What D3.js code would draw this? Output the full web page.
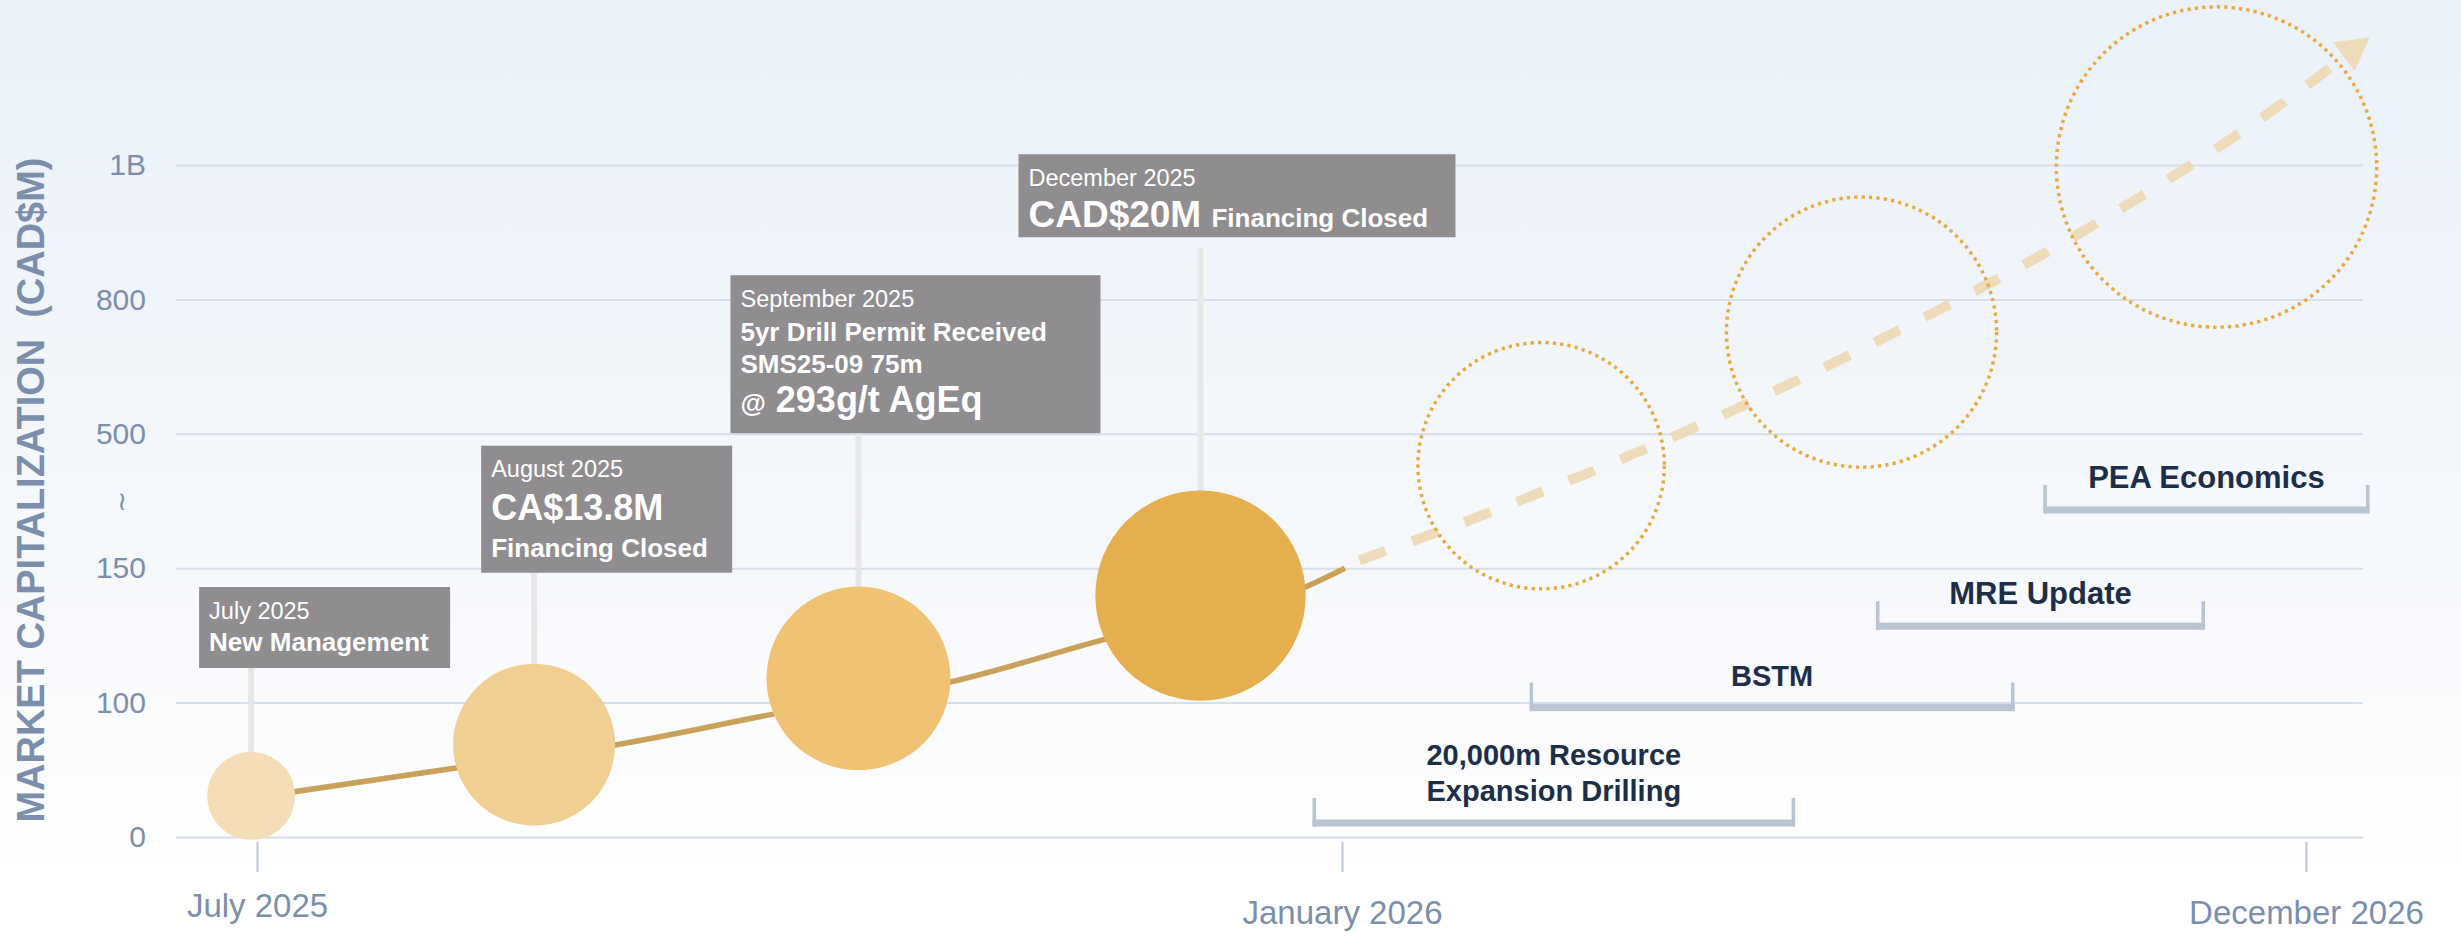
<!DOCTYPE html>
<html>
<head>
<meta charset="utf-8">
<script src="https://cdn.jsdelivr.net/npm/d3@7"></script>
<style>
  body { margin: 0; background: #fff; }
  svg { display: block; font-family: "Liberation Sans", Arial, sans-serif; }
</style>
</head>
<body>
<svg id="chart" width="2461" height="937"></svg>
<script>
// axis ticks (y axis is broken between 150 and 500, so ticks are evenly spaced)
const yTickValues = [0, 100, 150, 500, 800, 1000];
const yTickLabels = ["0", "100", "150", "500", "800", "1B"];
const yBreakValue = 325;
const xTickDates = ["2025-07-01", "2026-01-01", "2026-12-01"];
const xTickLabels = ["July 2025", "January 2026", "December 2026"];

// market cap so far, CAD$M
const capDates = ["2025-06-30", "2025-08-04", "2025-08-31", "2025-09-27", "2025-10-27", "2025-11-22", "2025-12-26", "2026-01-02"];
const capValues = [29, 51.5, 68.7, 91.8, 107.9, 123.7, 143.2, 150];

// milestones reached
const eventDates = ["2025-06-30", "2025-08-17", "2025-10-11", "2025-12-08"];
const eventValues = [30.6, 68.7, 109, 139.8];
const eventWeights = [1, 1.84, 2.09, 2.39];
const eventTitles = ["July 2025", "August 2025", "September 2025", "December 2025"];
const eventLines = [
  [["New Management"]],
  [["CA$13.8M"], ["Financing Closed"]],
  [["5yr Drill Permit Received"], ["SMS25-09 75m"], ["@", " 293g/t AgEq"]],
  [["CAD$20M ", "Financing Closed"]]
];

// projected path and targets
const projDates = ["2026-01-07", "2026-02-12", "2026-03-20", "2026-04-25", "2026-05-31", "2026-07-04", "2026-08-08", "2026-09-11", "2026-10-14", "2026-11-15", "2026-12-23"];
const projValues = [170.7, 269, 375.6, 489.6, 595.6, 702, 811.9, 891.9, 977.8, 1068, 1189.6];
const targetDates = ["2026-03-11", "2026-06-30", "2026-10-31"];
const targetValues = [417, 727, 997];
const targetWeights = [2.8, 3.07, 3.64];

// upcoming work programs
const programNames = [["20,000m Resource", "Expansion Drilling"], ["BSTM"], ["MRE Update"], ["PEA Economics"]];
const programStart = ["2025-12-27", "2026-03-07", "2026-07-05", "2026-09-01"];
const programEnd = ["2026-06-07", "2026-08-22", "2026-10-27", "2026-12-23"];
const programLevel = [10.4, 96.3, 128.4, 301.7];

const parse = d3.timeParse("%Y-%m-%d");
const W = 2461, H = 937;
const plotLeft = 176, plotRight = 2363, plotTop = 165, plotBottom = 837;
const font = "'Liberation Sans', Arial, sans-serif";

const svg = d3.select("#chart");

// background
const grad = svg.append("defs").append("linearGradient")
  .attr("id", "bg").attr("x1", 0).attr("y1", 0).attr("x2", 0).attr("y2", 1);
grad.append("stop").attr("offset", "0%").attr("stop-color", "#eaf1f9");
grad.append("stop").attr("offset", "65%").attr("stop-color", "#f7f9fc");
grad.append("stop").attr("offset", "92%").attr("stop-color", "#ffffff");
svg.append("rect").attr("width", W).attr("height", H).attr("fill", "url(#bg)");

const y = d3.scaleLinear()
  .domain(yTickValues)
  .range(yTickValues.map((d, i) => plotBottom - i * (plotBottom - plotTop) / (yTickValues.length - 1)));
const x = d3.scaleTime()
  .domain(xTickDates.map(parse))
  .range([257, 1342, 2306]);
const r = d3.scaleLinear().domain([0, 1]).range([0, 44]);

// y axis + gridlines
const gy = svg.append("g")
  .attr("transform", `translate(${plotLeft},0)`)
  .call(d3.axisLeft(y)
    .tickValues(yTickValues)
    .tickFormat((d, i) => yTickLabels[i])
    .tickSize(-(plotRight - plotLeft))
    .tickPadding(30));
gy.select(".domain").remove();
gy.attr("font-family", font).attr("font-size", 30);
gy.selectAll(".tick line").attr("stroke", "#d6dee9").attr("stroke-width", 2);
gy.selectAll(".tick text").attr("fill", "#7b8fad");

svg.append("text")
  .attr("x", plotLeft - 54).attr("y", y(yBreakValue))
  .attr("dy", "0.35em")
  .attr("text-anchor", "middle")
  .attr("font-family", "'DejaVu Sans', sans-serif")
  .attr("font-size", 26)
  .attr("fill", "#7b8fad")
  .text("\u2240");

// y title
svg.append("text")
  .attr("transform", `translate(44,490) rotate(-90)`)
  .attr("text-anchor", "middle")
  .attr("font-family", font)
  .attr("font-weight", "bold")
  .attr("font-size", 39)
  .attr("fill", "#7b8fad")
  .attr("textLength", 665)
  .attr("lengthAdjust", "spacingAndGlyphs")
  .style("white-space", "pre")
  .text("MARKET CAPITALIZATION  (CAD$M)");

// x axis
const gx = svg.append("g")
  .attr("transform", `translate(0,${plotBottom + 5})`)
  .call(d3.axisBottom(x)
    .tickValues(xTickDates.map(parse))
    .tickFormat((d, i) => xTickLabels[i])
    .tickSizeInner(30)
    .tickSizeOuter(0)
    .tickPadding(22));
gx.select(".domain").remove();
gx.attr("font-family", font).attr("font-size", 33);
gx.selectAll(".tick line").attr("stroke", "#b8c4d4").attr("stroke-width", 2);
gx.selectAll(".tick text").attr("fill", "#7b8fad")
  .attr("dy", (d, i) => i === 0 ? "0.71em" : "0.92em");

// work program brackets
const programFont = [29, 29, 31, 31];
const gProg = svg.append("g");
programNames.forEach((names, i) => {
  const x0 = x(parse(programStart[i])), x1 = x(parse(programEnd[i]));
  const yc = y(programLevel[i]);
  gProg.append("rect")
    .attr("x", x0).attr("y", yc - 3.5)
    .attr("width", x1 - x0).attr("height", 7)
    .attr("fill", "#b9c4d3");
  [x0, x1 - 3.5].forEach(xx => {
    gProg.append("rect")
      .attr("x", xx).attr("y", yc - 25)
      .attr("width", 3.5).attr("height", 28.5)
      .attr("fill", "#b9c4d3");
  });
  const t = gProg.append("text")
    .attr("text-anchor", "middle")
    .attr("font-family", font)
    .attr("font-weight", "bold")
    .attr("font-size", programFont[i])
    .attr("fill", "#1d2e48");
  names.forEach((s, j) => {
    t.append("tspan")
      .attr("x", (x0 + x1) / 2)
      .attr("y", yc - 22 - (names.length - 1 - j) * 36)
      .text(s);
  });
});

// annotation box layout: offset from stem, anchor height (y units), size, baselines, run sizes
const boxLayout = [
  {dx: -52, at: 143, w: 251, h: 81, gap: 0, base: [32, 64], sizes: [[26]]},
  {dx: -53, at: 469, w: 251, h: 127, gap: 0, base: [31, 74, 111], sizes: [[36], [26]]},
  {dx: -128, at: 836, w: 370, h: 158, gap: 0, base: [32, 66, 98, 137], sizes: [[26], [26], [26, 36]]},
  {dx: -182, at: 1016, w: 437, h: 83, gap: 11, base: [32, 73], sizes: [[37, 26]]}
];

const events = eventDates.map((d, i) => ({
  date: parse(d), value: eventValues[i], weight: eventWeights[i]
}));

// stems
const gStem = svg.append("g");
events.forEach((e, i) => {
  const L = boxLayout[i];
  gStem.append("line")
    .attr("x1", x(e.date)).attr("x2", x(e.date))
    .attr("y1", y(L.at) + L.h + L.gap)
    .attr("y2", y(e.value))
    .attr("stroke", "#e7e7e8")
    .attr("stroke-width", 6);
});

// market cap line
const capData = capDates.map((d, i) => ({date: parse(d), value: capValues[i]}));
const line = d3.line()
  .x(d => x(d.date))
  .y(d => y(d.value))
  .curve(d3.curveMonotoneX);
svg.append("path")
  .attr("d", line(capData))
  .attr("fill", "none")
  .attr("stroke", "#c9a15b")
  .attr("stroke-width", 5.5);

// milestone bubbles
const bubbleFill = ["#f5deb7", "#f1cf93", "#efc274", "#e5af4e"];
svg.append("g").selectAll("circle")
  .data(events)
  .join("circle")
  .attr("cx", d => x(d.date))
  .attr("cy", d => y(d.value))
  .attr("r", d => r(d.weight))
  .attr("fill", (d, i) => bubbleFill[i]);

// projection arrow
const projData = projDates.map((d, i) => ({date: parse(d), value: projValues[i]}));
const projPath = svg.append("path")
  .attr("d", line(projData))
  .attr("fill", "none")
  .attr("stroke", "#eedbb9")
  .attr("stroke-width", 10);
const headLen = 32, headHalf = 18;
const len = projPath.node().getTotalLength();
const dashes = [];
for (let s = 0; s + 28 <= len - headLen; s += 56) dashes.push(28, 28);
dashes.push(0, len);
projPath.attr("stroke-dasharray", dashes.join(" "));

const n = projData.length;
const tip = [x(projData[n - 1].date), y(projData[n - 1].value)];
const prev = [x(projData[n - 2].date), y(projData[n - 2].value)];
const dl = Math.hypot(tip[0] - prev[0], tip[1] - prev[1]);
const ux = (tip[0] - prev[0]) / dl, uy = (tip[1] - prev[1]) / dl;
const bxh = tip[0] - ux * headLen, byh = tip[1] - uy * headLen;
svg.append("path")
  .attr("d", `M${tip[0]},${tip[1]}L${bxh - uy * headHalf},${byh + ux * headHalf}L${bxh + uy * headHalf},${byh - ux * headHalf}Z`)
  .attr("fill", "#eedbb9");

// target bubbles
const targets = targetDates.map((d, i) => ({date: parse(d), value: targetValues[i], weight: targetWeights[i]}));
svg.append("g").selectAll("circle")
  .data(targets)
  .join("circle")
  .attr("cx", d => x(d.date))
  .attr("cy", d => y(d.value))
  .attr("r", d => r(d.weight))
  .attr("fill", "none")
  .attr("stroke", "#eaa93b")
  .attr("stroke-width", 3.5)
  .attr("stroke-dasharray", "3.2 4.2");

// annotation boxes
const gBox = svg.append("g").attr("font-family", font).attr("fill", "#fff");
events.forEach((e, i) => {
  const L = boxLayout[i];
  const bx = x(e.date) + L.dx, by = y(L.at);
  gBox.append("rect")
    .attr("x", bx).attr("y", by)
    .attr("width", L.w).attr("height", L.h)
    .attr("fill", "#8f8d90");
  gBox.append("text")
    .attr("x", bx + 10).attr("y", by + L.base[0])
    .attr("font-size", 23.5)
    .text(eventTitles[i]);
  eventLines[i].forEach((runs, j) => {
    const t = gBox.append("text")
      .attr("x", bx + 10).attr("y", by + L.base[j + 1])
      .attr("font-weight", "bold")
      .style("white-space", "pre");
    runs.forEach((s, k) => {
      t.append("tspan").attr("font-size", L.sizes[j][k]).text(s);
    });
  });
});
</script>
</body>
</html>
